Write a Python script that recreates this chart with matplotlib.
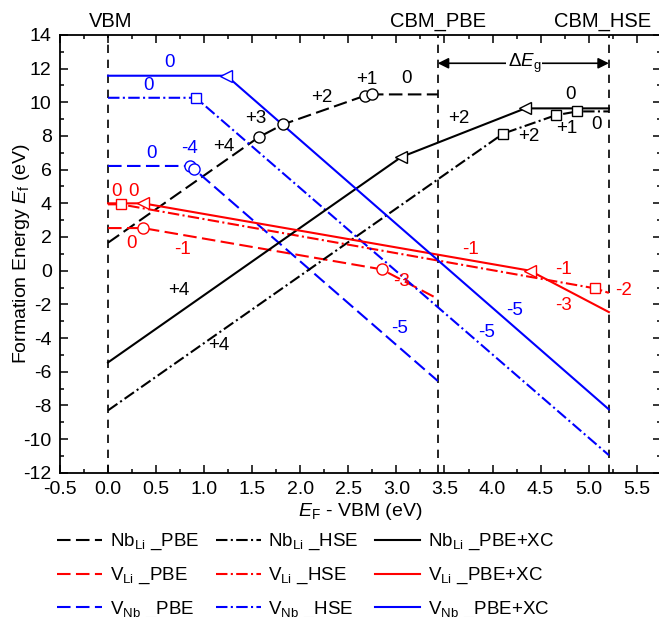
import matplotlib
matplotlib.use("Agg")
import matplotlib.pyplot as plt
from matplotlib.lines import Line2D
from matplotlib.ticker import MultipleLocator

plt.rcParams['font.family'] = ['Liberation Sans', 'DejaVu Sans']
plt.rcParams['mathtext.fontset'] = 'custom'
plt.rcParams['mathtext.rm'] = 'Liberation Sans'
plt.rcParams['mathtext.it'] = 'Liberation Sans:italic'
plt.rcParams['axes.unicode_minus'] = False

# band edges (eV above VBM)
VBM = 0.0
CBM_PBE = 3.43
CBM_HSE = 5.21

# Nb_Li antisite: kinks of the formation energy lines
nb_pbe_x = [0.0, 1.568, 1.821, 2.671, 2.751, 3.43]
nb_pbe_y = [1.66, 7.93, 8.69, 10.39, 10.47, 10.47]
nb_hse_x = [0.0, 4.11, 4.655, 4.881, 5.21]
nb_hse_y = [-8.30, 8.14, 9.23, 9.46, 9.46]
nb_xc_x = [0.0, 3.05, 4.34, 5.21]
nb_xc_y = [-5.45, 6.75, 9.64, 9.64]

# Li vacancy
vli_pbe_x = [0.0, 0.364, 2.845, 3.43]
vli_pbe_y = [2.53, 2.53, 0.08, -1.67]
vli_hse_x = [0.0, 0.132, 5.065, 5.21]
vli_hse_y = [3.94, 3.94, -1.05, -1.32]
vli_xc_x = [0.0, 0.364, 4.388, 5.21]
vli_xc_y = [4.0, 4.0, 0.0, -2.46]

# Nb vacancy
vnb_pbe_x = [0.0, 0.850, 0.892, 3.43]
vnb_pbe_y = [6.22, 6.22, 6.05, -6.55]
vnb_hse_x = [0.0, 0.913, 5.21]
vnb_hse_y = [10.27, 10.27, -10.96]
vnb_xc_x = [0.0, 1.232, 5.21]
vnb_xc_y = [11.58, 11.58, -8.24]

# charge-state labels: (x, y, text)
nb_labels = [(1.20, 7.36, '+4'), (1.54, 9.01, '+3'), (2.22, 10.30, '+2'),
             (2.69, 11.37, '+1'), (3.11, 11.39, '0'),
             (0.74, -1.19, '+4'), (3.65, 9.01, '+2'), (4.81, 10.49, '0'),
             (1.15, -4.45, '+4'), (4.38, 7.96, '+2'), (4.77, 8.46, '+1'),
             (5.08, 8.69, '0')]
vli_labels = [(0.087, 4.69, '0'), (0.26, 4.69, '0'), (0.243, 1.62, '0'),
              (0.774, 1.27, '-1'), (3.05, -0.66, '-3'), (3.77, 1.27, '-1'),
              (4.735, 0.08, '-1'), (4.74, -2.04, '-3'), (5.36, -1.15, '-2')]
vnb_labels = [(0.635, 12.35, '0'), (0.42, 10.97, '0'), (0.45, 6.97, '0'),
              (0.85, 7.27, '-4'), (3.035, -3.43, '-5'), (3.94, -3.65, '-5'),
              (4.23, -2.34, '-5')]

dash = (0, (6.5, 2.6))
dashdot = (0, (5.5, 1.6, 1.0, 1.6))

series = [
    (nb_pbe_x, nb_pbe_y, 'k', dash, 'o', [1, 2, 3, 4], r'Nb$_{\rm Li}$ _PBE'),
    (vli_pbe_x, vli_pbe_y, 'r', dash, 'o', [1, 2], r'V$_{\rm Li}$ _PBE'),
    (vnb_pbe_x, vnb_pbe_y, 'b', dash, 'o', [1, 2], r'V$_{\rm Nb}$ _PBE'),
    (nb_hse_x, nb_hse_y, 'k', dashdot, 's', [1, 2, 3], r'Nb$_{\rm Li}$ _HSE'),
    (vli_hse_x, vli_hse_y, 'r', dashdot, 's', [1, 2], r'V$_{\rm Li}$ _HSE'),
    (vnb_hse_x, vnb_hse_y, 'b', dashdot, 's', [1], r'V$_{\rm Nb}$ _HSE'),
    (nb_xc_x, nb_xc_y, 'k', '-', '<', [1, 2], r'Nb$_{\rm Li}$ _PBE+XC'),
    (vli_xc_x, vli_xc_y, 'r', '-', '<', [1, 2], r'V$_{\rm Li}$ _PBE+XC'),
    (vnb_xc_x, vnb_xc_y, 'b', '-', '<', [1], r'V$_{\rm Nb}$ _PBE+XC'),
]
msize = {'o': 8, 's': 7.5, '<': 9}

fig = plt.figure(figsize=(6.59, 6.17), dpi=100)
ax = fig.add_axes([0.0910, 0.2339, 0.9117, 0.7094])

# band edge markers
for xe in (VBM, CBM_PBE, CBM_HSE):
    ax.plot([xe, xe], [-12, 14], color='k', lw=1.2, ls=(0, (5, 4)), zorder=1)

handles = []
for xs, ys, c, ls, mk, idx, lab in series:
    ax.plot(xs, ys, color=c, lw=1.5, ls=ls, zorder=2)
    ax.plot([xs[i] for i in idx], [ys[i] for i in idx], ls='none',
            marker=mk, ms=msize[mk], mfc='white', mec=c, mew=1.0, zorder=3)
    handles.append(Line2D([], [], color=c, lw=1.5, ls=ls, label=lab))

for labs, c in ((nb_labels, 'k'), (vli_labels, 'r'), (vnb_labels, 'b')):
    for x, y, t in labs:
        ax.text(x, y, t, color=c, fontsize=13.5, ha='center', va='center')

# band gap arrow
ax.annotate('', xy=(CBM_PBE, 12.32), xytext=(CBM_HSE, 12.32),
            arrowprops=dict(arrowstyle='<|-|>', color='k', lw=1.2,
                            mutation_scale=16, shrinkA=0, shrinkB=0))
ax.text(4.33, 12.32, r'$\Delta E_{\rm g}$', fontsize=13.5, ha='center',
        va='center', bbox=dict(fc='white', ec='none', pad=1))

for xe, t, xt in ((VBM, 'VBM', 0.03), (CBM_PBE, 'CBM_PBE', CBM_PBE),
                  (CBM_HSE, 'CBM_HSE', 5.14)):
    ax.text(xt, 14.49, t, fontsize=14.5, ha='center', va='baseline',
            clip_on=False)

ax.set_xlim(-0.5, 5.75)
ax.set_ylim(-12, 14)
ax.xaxis.set_major_locator(MultipleLocator(0.5))
ax.xaxis.set_minor_locator(MultipleLocator(0.25))
ax.yaxis.set_major_locator(MultipleLocator(2))
ax.yaxis.set_minor_locator(MultipleLocator(1))
ax.set_xticks([v * 0.5 - 0.5 for v in range(13)])
ax.tick_params(which='both', direction='in', top=True, right=True,
               labelsize=14, width=1.1)
ax.tick_params(which='major', length=6, pad=6)
ax.tick_params(which='minor', length=3)
for s in ax.spines.values():
    s.set_linewidth(1.3)

ax.set_xlabel(r'$E_{\rm F}$ - VBM (eV)', fontsize=14, labelpad=2)
ax.set_ylabel(r'Formation Energy $E_{\rm f}$ (eV)', fontsize=14)
ax.yaxis.set_label_coords(-0.047, 0.5)

fig.legend(handles=handles, ncol=3, loc='upper left',
           bbox_to_anchor=(57 / 659, 1 - 532 / 617), frameon=False,
           fontsize=13.5, handlelength=2.4, handletextpad=0.4,
           columnspacing=0.9, labelspacing=0.72, borderpad=0,
           borderaxespad=0)

fig.savefig('out.png', dpi=100)
